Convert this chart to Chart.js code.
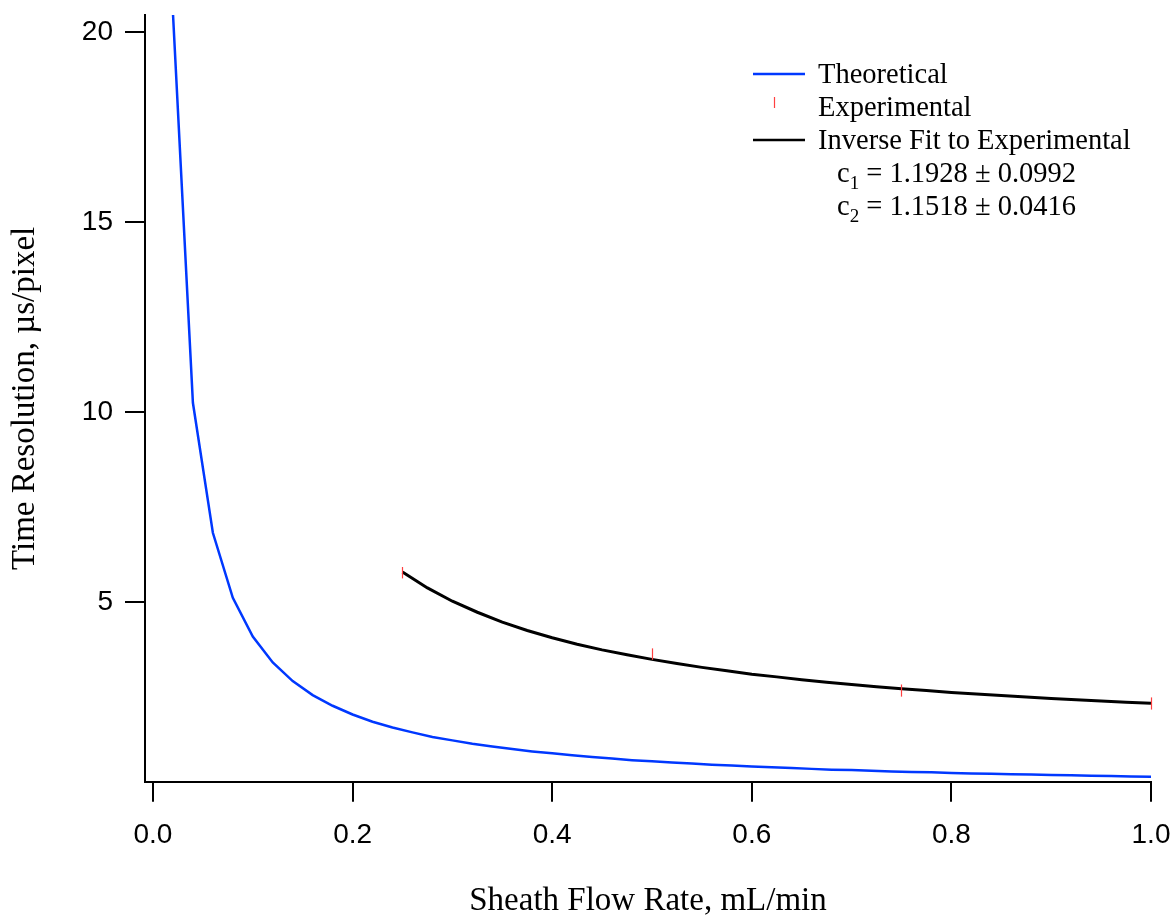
<!DOCTYPE html>
<html>
<head>
<meta charset="utf-8">
<script src="https://cdn.jsdelivr.net/npm/chart.js@4.4.1/dist/chart.umd.min.js"></script>
<style>
  html, body { margin: 0; padding: 0; background: #fff; }
  #plot { display: block; }
</style>
</head>
<body>
<canvas id="plot" width="1174" height="921"></canvas>
<script>
// theoretical curve
const theoX = [0.02, 0.04, 0.06, 0.08, 0.10, 0.12, 0.14, 0.16, 0.18, 0.20,
  0.22, 0.24, 0.26, 0.28, 0.30, 0.32, 0.34, 0.36, 0.38, 0.40,
  0.42, 0.44, 0.46, 0.48, 0.50, 0.52, 0.54, 0.56, 0.58, 0.60,
  0.62, 0.64, 0.66, 0.68, 0.70, 0.72, 0.74, 0.76, 0.78, 0.80,
  0.82, 0.84, 0.86, 0.88, 0.90, 0.92, 0.94, 0.96, 0.98, 1.00];
const theoY = [20.5, 10.25, 6.83, 5.12, 4.10, 3.42, 2.93, 2.56, 2.28, 2.05,
  1.86, 1.71, 1.58, 1.46, 1.37, 1.28, 1.21, 1.14, 1.08, 1.03,
  0.98, 0.93, 0.89, 0.85, 0.82, 0.79, 0.76, 0.73, 0.71, 0.68,
  0.66, 0.64, 0.62, 0.60, 0.59, 0.57, 0.55, 0.54, 0.53, 0.51,
  0.50, 0.49, 0.48, 0.47, 0.46, 0.45, 0.44, 0.43, 0.42, 0.41];

// experimental points with error bars
const expX = [0.25, 0.50, 0.75, 1.00];
const expY = [5.78, 3.64, 2.68, 2.34];
const expErr = [0.15, 0.15, 0.16, 0.16];

// inverse fit curve
const fitX = [0.25, 0.275, 0.30, 0.325, 0.35, 0.375, 0.40, 0.425, 0.45, 0.475,
  0.50, 0.525, 0.55, 0.575, 0.60, 0.625, 0.65, 0.675, 0.70, 0.725,
  0.75, 0.775, 0.80, 0.825, 0.85, 0.875, 0.90, 0.925, 0.95, 0.975, 1.00];
const fitY = [5.80, 5.38, 5.03, 4.74, 4.48, 4.26, 4.07, 3.90, 3.75, 3.62,
  3.50, 3.39, 3.29, 3.20, 3.11, 3.04, 2.965, 2.90, 2.84, 2.78,
  2.73, 2.68, 2.63, 2.59, 2.55, 2.51, 2.47, 2.44, 2.405, 2.375, 2.345];

const fitText = ["1.1928 \u00b1 0.0992", "1.1518 \u00b1 0.0416"];

function pairs(xs, ys) {
  return xs.map((x, i) => ({ x: x, y: ys[i] }));
}

const serif = "'Liberation Serif', 'Times New Roman', serif";
const sans = "'Liberation Sans', Arial, sans-serif";

const errorBars = {
  id: "errorBars",
  afterDatasetsDraw(chart) {
    const ctx = chart.ctx;
    const xs = chart.scales.x, ys = chart.scales.y;
    ctx.save();
    ctx.strokeStyle = "#ff4040";
    ctx.lineWidth = 1.2;
    expX.forEach((x, i) => {
      const px = Math.round(xs.getPixelForValue(x)) + 0.5;
      ctx.beginPath();
      ctx.moveTo(px, ys.getPixelForValue(expY[i] + expErr[i]));
      ctx.lineTo(px, ys.getPixelForValue(expY[i] - expErr[i]));
      ctx.stroke();
    });
    ctx.restore();
  }
};

const legendBox = {
  id: "legendBox",
  afterDraw(chart) {
    const ctx = chart.ctx;
    ctx.save();
    ctx.lineWidth = 2.5;
    ctx.strokeStyle = "#0038ff";
    ctx.beginPath(); ctx.moveTo(753, 74); ctx.lineTo(805, 74); ctx.stroke();
    ctx.strokeStyle = "#000";
    ctx.beginPath(); ctx.moveTo(753, 140); ctx.lineTo(805, 140); ctx.stroke();
    ctx.strokeStyle = "#ff4040";
    ctx.lineWidth = 1.2;
    ctx.beginPath(); ctx.moveTo(774.5, 97); ctx.lineTo(774.5, 108); ctx.stroke();

    ctx.fillStyle = "#000";
    ctx.textBaseline = "alphabetic";
    ctx.textAlign = "left";
    ctx.font = "28.5px " + serif;
    ctx.fillText("Theoretical", 818, 83);
    ctx.fillText("Experimental", 818, 116);
    ctx.fillText("Inverse Fit to Experimental", 818, 149);

    [182, 215].forEach((base, i) => {
      let x = 837;
      ctx.font = "28.5px " + serif;
      ctx.fillText("c", x, base);
      x += ctx.measureText("c").width;
      ctx.font = "19px " + serif;
      ctx.fillText(String(i + 1), x, base + 7);
      x += ctx.measureText(String(i + 1)).width;
      ctx.font = "28.5px " + serif;
      ctx.fillText(" = " + fitText[i], x, base);
    });
    ctx.restore();
  }
};

new Chart(document.getElementById("plot"), {
  type: "line",
  data: {
    datasets: [
      {
        label: "Theoretical",
        data: pairs(theoX, theoY),
        borderColor: "#0038ff",
        borderWidth: 2.5,
        pointRadius: 0,
        tension: 0,
        fill: false
      },
      {
        label: "Experimental",
        data: pairs(expX, expY),
        showLine: false,
        pointRadius: 0,
        borderColor: "#ff4040"
      },
      {
        label: "Inverse Fit to Experimental",
        data: pairs(fitX, fitY),
        borderColor: "#000",
        borderWidth: 3,
        pointRadius: 0,
        tension: 0,
        fill: false
      }
    ]
  },
  options: {
    responsive: false,
    animation: false,
    layout: { padding: { top: 15, right: 23, bottom: 0, left: 4 } },
    plugins: {
      legend: { display: false },
      tooltip: { enabled: false }
    },
    scales: {
      x: {
        type: "linear",
        min: -0.008,
        max: 1.0,
        border: { display: true, color: "#000", width: 2 },
        grid: { drawOnChartArea: false, drawTicks: true, tickLength: 20, color: "#000", lineWidth: 2 },
        ticks: {
          stepSize: 0.2,
          includeBounds: false,
          padding: 17,
          color: "#000",
          font: { family: sans, size: 28 },
          maxRotation: 0,
          callback: v => v.toFixed(1)
        },
        title: {
          display: true,
          text: "Sheath Flow Rate, mL/min",
          color: "#000",
          font: { family: serif, size: 33 },
          padding: { top: 12, bottom: 0 }
        },
        afterFit(scale) { scale.paddingLeft = 0; scale.paddingRight = 0; }
      },
      y: {
        type: "linear",
        min: 0.28,
        max: 20.45,
        border: { display: true, color: "#000", width: 2 },
        grid: { drawOnChartArea: false, drawTicks: true, tickLength: 20, color: "#000", lineWidth: 2 },
        ticks: {
          stepSize: 5,
          includeBounds: false,
          padding: 12,
          color: "#000",
          font: { family: sans, size: 28 },
          callback: v => String(v)
        },
        title: {
          display: true,
          text: "Time Resolution, \u00b5s/pixel",
          color: "#000",
          font: { family: serif, size: 33 },
          padding: { top: 2, bottom: 20 }
        },
        afterFit(scale) { scale.width = 141; scale.paddingTop = 0; scale.paddingBottom = 0; }
      }
    }
  },
  plugins: [errorBars, legendBox]
});
</script>
</body>
</html>
